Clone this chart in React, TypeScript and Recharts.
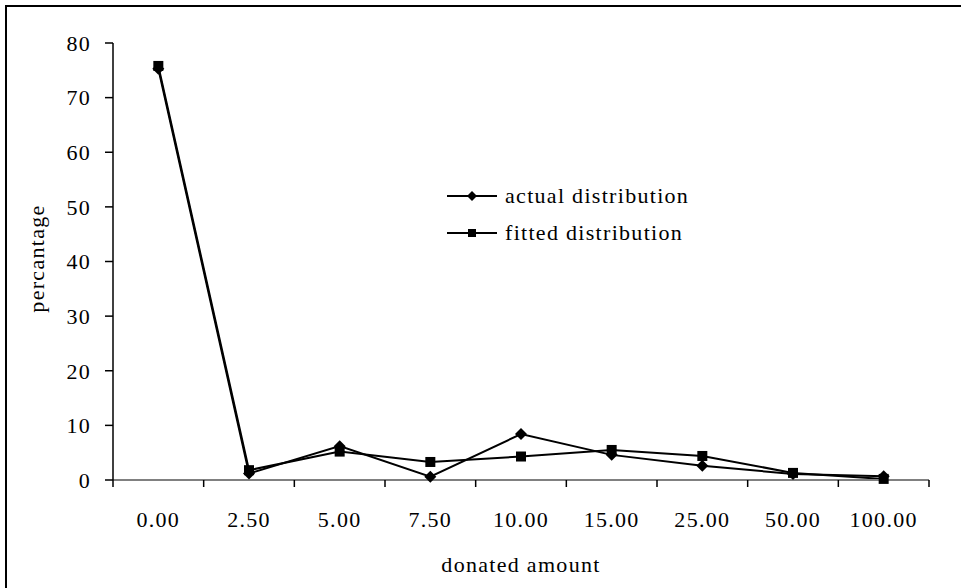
import React from "react"
import { Label, Line, LineChart, XAxis, YAxis } from "recharts"

const CATEGORIES = ["0.00", "2.50", "5.00", "7.50", "10.00", "15.00", "25.00", "50.00", "100.00"]
const ACTUAL = [75.3, 1.2, 6.2, 0.6, 8.4, 4.6, 2.6, 1.1, 0.7]
const FITTED = [75.8, 1.8, 5.2, 3.3, 4.3, 5.5, 4.4, 1.3, 0.2]
const Y_TICKS = [0, 10, 20, 30, 40, 50, 60, 70, 80]
const SERIES_NAMES = ["actual distribution", "fitted distribution"]

const data = CATEGORIES.map((amount, i) => ({
  amount,
  actual: ACTUAL[i],
  fitted: FITTED[i],
}))

const FONT = "'Liberation Serif', 'Times New Roman', serif"
const WIDTH = 961
const HEIGHT = 588
const MARGIN = { top: 43, right: 32, left: 0, bottom: 0 }
const Y_AXIS_W = 113
const X_TICK_SIZE = 7
const X_TICK_MARGIN = 24
// each category gets an equal slot; tick marks sit on the slot edges
const SLOT = (WIDTH - Y_AXIS_W - MARGIN.right) / CATEGORIES.length

function CategoryTick(props: any) {
  const { x, y, payload, index } = props
  const axisY = y - X_TICK_SIZE - X_TICK_MARGIN
  const edges = index === 0 ? [x - SLOT / 2, x + SLOT / 2] : [x + SLOT / 2]
  return (
    <g>
      {edges.map((ex) => (
        <line
          key={ex}
          x1={ex}
          x2={ex}
          y1={axisY}
          y2={axisY + X_TICK_SIZE}
          stroke="#000"
          strokeWidth={1.5}
        />
      ))}
      <text x={x} y={y} dy="0.71em" textAnchor="middle" fill="#000">
        {payload.value}
      </text>
    </g>
  )
}

function Diamond(props: any) {
  const { cx, cy, index } = props
  if (cx == null || cy == null) return null
  const r = 6
  return (
    <polygon
      key={`d-${index}`}
      points={`${cx},${cy - r} ${cx + r},${cy} ${cx},${cy + r} ${cx - r},${cy}`}
      fill="#000"
    />
  )
}

function Square(props: any) {
  const { cx, cy, index } = props
  if (cx == null || cy == null) return null
  const s = 5
  return <rect key={`s-${index}`} x={cx - s} y={cy - s} width={s * 2} height={s * 2} fill="#000" />
}

function LegendBox() {
  return (
    <div style={{ position: "absolute", left: 447, top: 177, color: "#000" }}>
      {SERIES_NAMES.map((name, i) => (
        <div key={name} style={{ display: "flex", alignItems: "center", height: 37 }}>
          <svg width={50} height={14} style={{ marginRight: 8 }}>
            <line x1={0} y1={7} x2={50} y2={7} stroke="#000" strokeWidth={2} />
            {i === 0 ? (
              <polygon points="25,2 30,7 25,12 20,7" fill="#000" />
            ) : (
              <rect x={21} y={3} width={8} height={8} fill="#000" />
            )}
          </svg>
          <span>{name}</span>
        </div>
      ))}
    </div>
  )
}

export default function App() {
  return (
    <div
      style={{
        position: "absolute",
        left: 0,
        top: 0,
        width: WIDTH,
        height: HEIGHT,
        background: "#fff",
        fontFamily: FONT,
        fontSize: 22,
        letterSpacing: 1.3,
      }}
    >
      <div
        style={{
          position: "absolute",
          left: 5,
          top: 5,
          width: WIDTH - 5,
          height: HEIGHT - 5,
          borderLeft: "2px solid #000",
          borderTop: "2px solid #000",
        }}
      />
      <LineChart
        width={WIDTH}
        height={HEIGHT}
        data={data}
        margin={MARGIN}
        style={{ position: "absolute", left: 0, top: 0 }}
      >
        <XAxis
          dataKey="amount"
          interval={0}
          padding={{ left: SLOT / 2, right: SLOT / 2 }}
          axisLine={{ stroke: "#808080", strokeWidth: 2 }}
          tickLine={false}
          tickSize={X_TICK_SIZE}
          tickMargin={X_TICK_MARGIN}
          tick={CategoryTick}
          height={HEIGHT - 480}
        >
          <Label
            content={({ viewBox }: any) => (
              <text
                x={viewBox.x + viewBox.width / 2}
                y={572}
                textAnchor="middle"
                fill="#000"
              >
                donated amount
              </text>
            )}
          />
        </XAxis>
        <YAxis
          domain={[0, 80]}
          ticks={Y_TICKS}
          interval={0}
          width={Y_AXIS_W}
          axisLine={{ stroke: "#000", strokeWidth: 1.5 }}
          tickLine={{ stroke: "#000", strokeWidth: 1.5 }}
          tickSize={8}
          tickMargin={14}
          tick={{ fill: "#000" }}
        >
          <Label
            content={({ viewBox }: any) => {
              const x = 36
              const y = viewBox.y + viewBox.height / 2 - 3
              return (
                <text
                  x={x}
                  y={y}
                  textAnchor="middle"
                  dominantBaseline="central"
                  transform={`rotate(-90 ${x} ${y})`}
                  fill="#000"
                >
                  percantage
                </text>
              )
            }}
          />
        </YAxis>
        <Line
          dataKey="actual"
          name={SERIES_NAMES[0]}
          stroke="#000"
          strokeWidth={2}
          dot={Diamond}
          activeDot={false}
          isAnimationActive={false}
        />
        <Line
          dataKey="fitted"
          name={SERIES_NAMES[1]}
          stroke="#000"
          strokeWidth={2}
          dot={Square}
          activeDot={false}
          isAnimationActive={false}
        />
      </LineChart>
      <LegendBox />
    </div>
  )
}
